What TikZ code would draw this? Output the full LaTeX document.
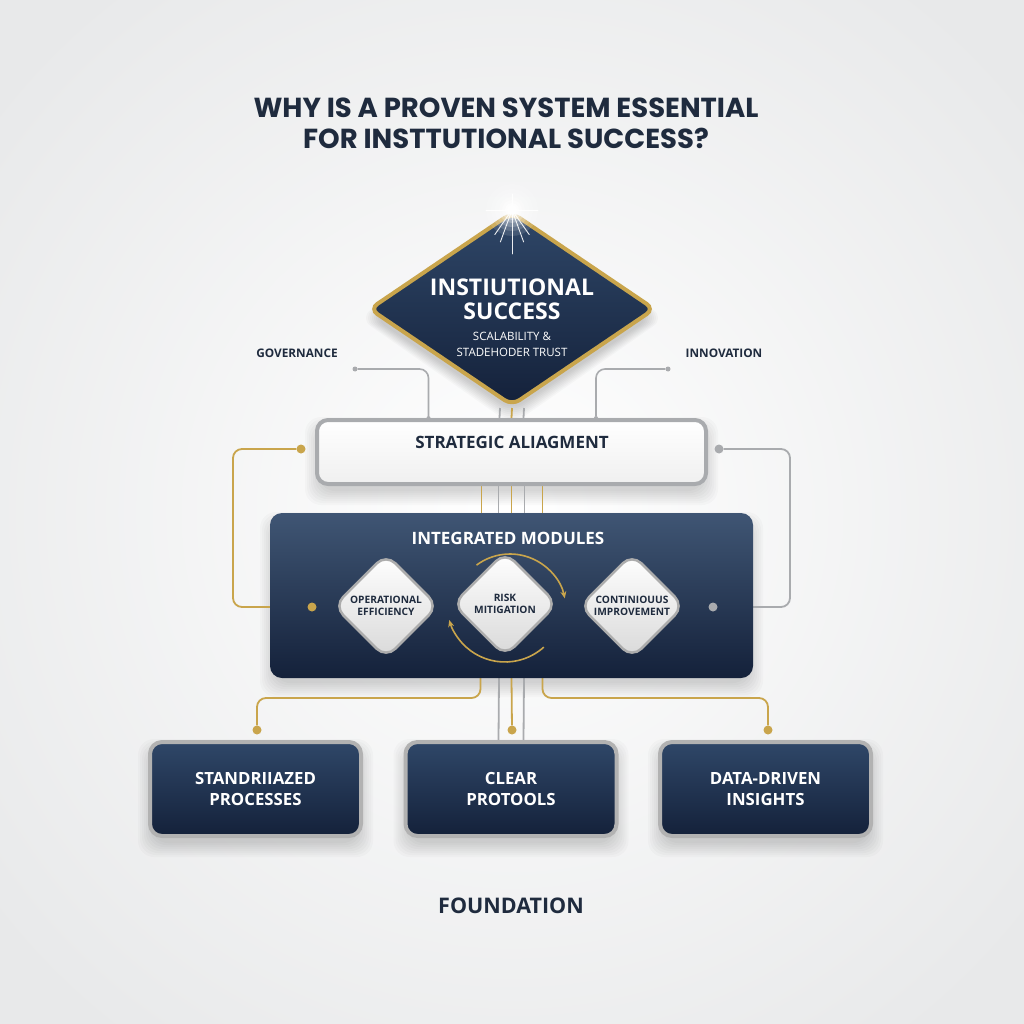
\documentclass[tikz,border=0pt]{standalone}
\usepackage{fontspec}
\setmainfont{Open Sans}
\newfontfamily\titlefont{Poppins}
\usetikzlibrary{shapes.geometric,arrows.meta}
\definecolor{navy}{HTML}{1B2B45}
\definecolor{navyL}{HTML}{2F4768}
\definecolor{navyD}{HTML}{14213A}
\definecolor{txtnavy}{HTML}{1F2B3E}
\definecolor{gold}{HTML}{C9A54C}
\definecolor{lgray}{HTML}{A9ABAE}
\definecolor{bgc}{HTML}{E8E9EA}
\pgfdeclarelayer{back}
\pgfdeclarelayer{shadows}
\pgfdeclarelayer{lines}
\pgfsetlayers{back,shadows,lines,main}
\tikzset{
  topdia/.style={shape=diamond, minimum width=286pt, minimum height=194pt, inner sep=0pt,
     rounded corners=9pt, top color=navyL, bottom color=navyD, draw=gold, line width=4pt},
  diashad/.style={shape=diamond, inner sep=0pt, rounded corners=14pt, fill=black, fill opacity=0.022, draw=none},
  boxshad/.style={rectangle, inner sep=0pt, rounded corners=16pt, fill=black, fill opacity=0.02, draw=none},
  stratbox/.style={rectangle, rounded corners=11pt, minimum width=389pt, minimum height=64pt,
     top color=white, bottom color=gray!12, draw=lgray, line width=4pt},
  modbox/.style={rectangle, rounded corners=12pt, minimum width=483pt, minimum height=165pt,
     top color=navyL!92!white, bottom color=navyD, draw=none},
  smalldia/.style={shape=diamond, minimum width=105pt, minimum height=105pt, inner sep=0pt,
     rounded corners=13pt, top color=white, bottom color=gray!30, draw=gray!65, line width=2.5pt,
     align=center, text=txtnavy, font=\fontsize{10.2}{11.5}\selectfont\bfseries},
  basebox/.style={rectangle, rounded corners=12pt, minimum width=211pt, minimum height=94pt,
     top color=navyL, bottom color=navyD, draw=gray!60, line width=4pt,
     align=center, text=white, font=\fontsize{16.8}{21}\selectfont\bfseries},
  goldline/.style={draw=gold, line width=1.8pt, rounded corners=9pt},
  grayline/.style={draw=lgray, line width=1.8pt, rounded corners=9pt},
  golddot/.style={circle, fill=gold, minimum size=9pt, inner sep=0pt},
  graydot/.style={circle, fill=lgray, minimum size=9pt, inner sep=0pt},
  tinydot/.style={circle, fill=lgray, minimum size=5pt, inner sep=0pt},
  lbl/.style={text=txtnavy, font=\fontsize{11.8}{13}\selectfont\bfseries},
  goldarrow/.style={draw=gold, line width=1.6pt, -{Stealth[length=7pt,width=6pt]}},
}
\begin{document}
\begin{tikzpicture}[x=1pt,y=-1pt]
\useasboundingbox (0,0) rectangle (1024,1024);
\begin{pgfonlayer}{back}
  \shade[inner color=white, outer color=bgc] (-150,-150) rectangle (1174,1174);
\end{pgfonlayer}

% title
\node[text=txtnavy, font=\titlefont\fontsize{27.5}{31}\selectfont\bfseries, align=center] (title) at (506,123)
  {WHY IS A PROVEN SYSTEM ESSENTIAL\\FOR INSTTUTIONAL SUCCESS?};

% top diamond
\node[topdia] (dia) at (512,309) {};
\node[text=white, font=\fontsize{23}{24}\selectfont\bfseries, align=center] (diat) at (512,299) {INSTIUTIONAL\\SUCCESS};
\node[text=white, font=\fontsize{11.5}{16}\selectfont, align=center] (dias) at (512,344) {SCALABILITY \&\\STADEHODER TRUST};
% sparkle (y axis points down: 90 = downwards)
\foreach \r/\o in {26/0.12,21/0.15,17/0.2,13/0.25,10/0.35,7/0.5,5/0.7,3/0.9}
  \fill[white, fill opacity=\o] (dia.north) circle (\r pt);
\foreach \a/\l in {90/44, 270/16, 0/26, 180/26, 55/30, 125/30, 70/34, 110/34}
  \draw[white, line width=0.9pt, opacity=0.9, line cap=round] (dia.north) -- ++(\a:\l);

% side labels
\node[lbl] (gov) at (297,353) {GOVERNANCE};
\node[lbl] (inn) at (724,353) {INNOVATION};

% strategic alignment
\node[stratbox] (strat) at (511.5,452) {};
\node[text=txtnavy, font=\fontsize{17}{18}\selectfont\bfseries] (stratt) at (512,442) {STRATEGIC ALIAGMENT};

% integrated modules
\node[modbox] (mod) at (511.5,595.5) {};
\node[text=white, font=\fontsize{17}{18}\selectfont\bfseries] (modt) at (508,538) {INTEGRATED MODULES};
\node[smalldia] (ope) at (386,606) {OPERATIONAL\\EFFICIENCY};
\node[smalldia] (risk) at (505,604) {RISK\\MITIGATION};
\node[smalldia] (cont) at (632,606) {CONTINIOUUS\\IMPROVEMENT};
% cycle arrows
\draw[goldarrow] ([shift={(5,6)}]risk.center) ++(-126.7:56) arc[start angle=-126.7, end angle=-12, radius=56];
\draw[goldarrow] (risk.center) ++(48:58) arc[start angle=48, end angle=164, radius=58];

% dots
\node[golddot] (dL) at (301,449) {};
\node[graydot] (dR) at (719,449) {};
\node[golddot] (dML) at (312,607) {};
\node[graydot] (dMR) at (713,607) {};
\node[tinydot] (gstart) at (355,369) {};
\node[tinydot] (istart) at (668,369) {};
\node[tinydot, minimum size=4pt] (gend) at (428.5,418) {};
\node[tinydot, minimum size=4pt] (iend) at (596,418) {};

% foundation boxes
\node[basebox] (b1) at (255.5,789) {STANDRIIAZED\\PROCESSES};
\node[basebox] (b2) at (511,789) {CLEAR\\PROTOOLS};
\node[basebox] (b3) at (765.5,789) {DATA-DRIVEN\\INSIGHTS};
\node[golddot] (d1) at (257,730) {};
\node[golddot] (d2) at (512,730) {};
\node[golddot] (d3) at (768,730) {};

\node[text=txtnavy, font=\fontsize{21.5}{22}\selectfont\bfseries] (found) at (511,906) {FOUNDATION};

% connector helper coordinates
\coordinate (cl) at (233,530);
\coordinate (cr) at (790,530);
\coordinate (jl) at (257,698);
\coordinate (jr) at (768,698);

\begin{pgfonlayer}{shadows}
  \foreach \e in {-4,0,4,8,12,16,20,24}{
    \node[diashad, minimum width=282pt+\e pt, minimum height=190pt+\e pt] (dsh\e) at ([yshift=-9]dia.center) {};
    \node[boxshad, minimum width=389pt+\e pt, minimum height=64pt+\e pt] (ssh\e) at ([yshift=-9]strat.center) {};
    \node[boxshad, minimum width=479pt+\e pt, minimum height=161pt+\e pt] (msh\e) at ([yshift=-9]mod.center) {};
    \node[boxshad, minimum width=211pt+\e pt, minimum height=94pt+\e pt] (b1sh\e) at ([yshift=-9]b1.center) {};
    \node[boxshad, minimum width=211pt+\e pt, minimum height=94pt+\e pt] (b2sh\e) at ([yshift=-9]b2.center) {};
    \node[boxshad, minimum width=211pt+\e pt, minimum height=94pt+\e pt] (b3sh\e) at ([yshift=-9]b3.center) {};
  }
\end{pgfonlayer}

\begin{pgfonlayer}{lines}
  % top gray
  \draw[grayline, line width=1.6pt] (gstart) -| (gend);
  \draw[grayline, line width=1.6pt] (istart) -| (iend);
  % diamond to strat
  \draw[grayline] ([xshift=-12]dia.south) -- ([xshift=-12]strat.north);
  \draw[goldline] (dia.south) -- (strat.north);
  \draw[grayline] ([xshift=12]dia.south) -- ([xshift=12]strat.north);
  % strat to mod
  \draw[goldline] ([xshift=-30]strat.south) -- ([xshift=-30]mod.north);
  \draw[grayline] ([xshift=-13]strat.south) -- ([xshift=-13]mod.north);
  \draw[goldline] (strat.south) -- (mod.north);
  \draw[grayline] ([xshift=13]strat.south) -- ([xshift=13]mod.north);
  \draw[goldline] ([xshift=31]strat.south) -- ([xshift=31]mod.north);
  % side loops
  \draw[goldline] (dL) -| (cl) |- (dML);
  \draw[grayline] (dR) -| (cr) |- (dMR);
  % mod to foundation
  \draw[goldline] ([xshift=-31]mod.south) |- (jl) -- (d1);
  \draw[grayline] ([xshift=-12.5]mod.south) -- ([xshift=-12.5]b2.north);
  \draw[goldline] (mod.south) -- (d2);
  \draw[grayline] ([xshift=12.5]mod.south) -- ([xshift=12.5]b2.north);
  \draw[goldline] ([xshift=31]mod.south) |- (jr) -- (d3);
\end{pgfonlayer}
\end{tikzpicture}
\end{document}
